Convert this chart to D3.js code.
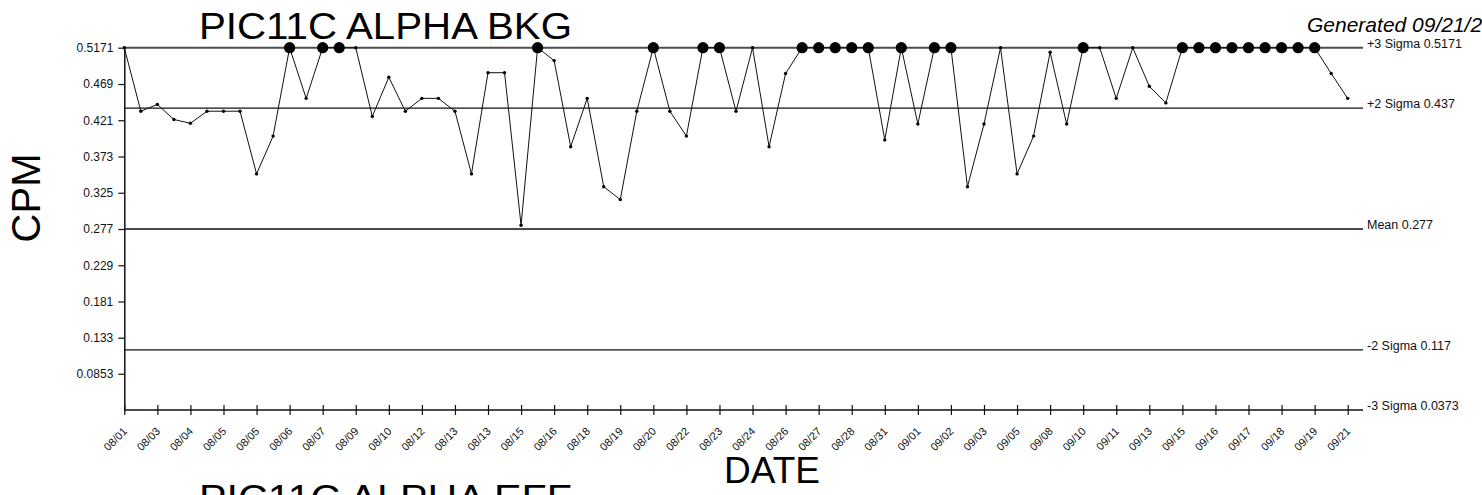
<!DOCTYPE html>
<html>
<head>
<meta charset="utf-8">
<script src="https://cdn.jsdelivr.net/npm/d3@7/dist/d3.min.js"></script>
<style>
  html, body { margin: 0; padding: 0; background: #fff; overflow: hidden; }
  svg { display: block; font-family: "Liberation Sans", Arial, sans-serif; }
</style>
</head>
<body>
<svg id="chart" width="1482" height="495"></svg>
<script>
// ---- data ----
const tickLabels = ["08/01","08/03","08/04","08/05","08/05","08/06","08/07","08/09","08/10","08/12",
  "08/13","08/13","08/15","08/16","08/18","08/19","08/20","08/22","08/23","08/24",
  "08/26","08/27","08/28","08/31","09/01","09/02","09/03","09/05","09/08","09/10",
  "09/11","09/13","09/15","09/16","09/17","09/18","09/19","09/21"];

const cpm = [0.5171,0.433,0.442,0.422,0.417,0.433,0.433,0.433,0.350,0.400,
  0.5171,0.450,0.5171,0.5171,0.5171,0.426,0.478,0.433,0.450,0.450,
  0.433,0.350,0.484,0.484,0.282,0.5171,0.500,0.386,0.450,0.333,
  0.316,0.433,0.5171,0.433,0.400,0.5171,0.5171,0.433,0.5171,0.386,
  0.483,0.5171,0.5171,0.5171,0.5171,0.5171,0.395,0.5171,0.416,0.5171,
  0.5171,0.333,0.416,0.5171,0.350,0.400,0.511,0.416,0.5171,0.5171,
  0.450,0.5171,0.466,0.444,0.5171,0.5171,0.5171,0.5171,0.5171,0.5171,
  0.5171,0.5171,0.5171,0.483,0.450];

// 1 = point outside control limit (drawn as large marker)
const outOfLimit = [0,0,0,0,0,0,0,0,0,0,
  1,0,1,1,0,0,0,0,0,0,
  0,0,0,0,0,1,0,0,0,0,
  0,0,1,0,0,1,1,0,0,0,
  0,1,1,1,1,1,0,1,0,1,
  1,0,0,0,0,0,0,0,1,0,
  0,0,0,0,1,1,1,1,1,1,
  1,1,1,0,0];

const yTicks = [0.0853,0.133,0.181,0.229,0.277,0.325,0.373,0.421,0.469,0.5171];
const limitValues = [0.5171,0.437,0.277,0.117,0.0373];
const limitLabels = ["+3 Sigma 0.5171","+2 Sigma 0.437","Mean 0.277","-2 Sigma 0.117","-3 Sigma 0.0373"];

// ---- drawing ----
const svg = d3.select("#chart");
const font = "'Liberation Sans', Arial, sans-serif";

const x = d3.scalePoint().domain(d3.range(cpm.length)).range([124.3, 1347.7]);
const y = d3.scaleLinear().domain([0.0373, 0.5171]).range([410, 47.7]);
const lineEnd = 1363;

// control limit lines
limitValues.forEach((v, i) => {
  const top = i === 0;
  svg.append("line")
    .attr("x1", x(0)).attr("x2", lineEnd)
    .attr("y1", y(v)).attr("y2", y(v))
    .attr("stroke", top ? "#4d4d4d" : "#111")
    .attr("stroke-width", top ? 2 : 1.3);
  svg.append("text")
    .attr("x", lineEnd + 4).attr("y", y(v) - 0.2)
    .attr("font-size", 12.5)
    .attr("fill", "#111")
    .text(limitLabels[i]);
});

// y axis
const yAxis = d3.axisLeft(y).tickValues(yTicks).tickSize(6).tickSizeOuter(0).tickPadding(5)
  .tickFormat(d => String(d));
const gy = svg.append("g").attr("transform", `translate(${x(0)},0)`).call(yAxis);
gy.select(".domain").attr("stroke", "#111").attr("stroke-width", 1.5);
gy.selectAll(".tick line").attr("stroke", "#111").attr("stroke-width", 1.2);
gy.selectAll(".tick text").attr("font-size", 12).attr("font-family", font).attr("fill", "#111");

// x axis
const evenIdx = d3.range(0, cpm.length, 2);
const xAxis = d3.axisBottom(x).tickValues(evenIdx).tickSize(5).tickSizeOuter(0)
  .tickFormat(d => tickLabels[d / 2]);
const gx = svg.append("g").attr("transform", `translate(0,${y(0.0373)})`).call(xAxis);
gx.select(".domain").remove();
gx.selectAll(".tick line").attr("y1", -5).attr("y2", 5).attr("stroke", "#111").attr("stroke-width", 1.2);
gx.selectAll(".tick text")
  .attr("font-size", 11).attr("font-family", font).attr("fill", "#111")
  .attr("text-anchor", "end")
  .attr("dy", null)
  .attr("y", 0)
  .attr("transform", "translate(3,22) rotate(-45)");

// data line
svg.append("path")
  .datum(cpm)
  .attr("fill", "none")
  .attr("stroke", "#111")
  .attr("stroke-width", 1)
  .attr("d", d3.line().x((d, i) => x(i)).y(d => y(d)));

// markers
svg.append("g").selectAll("circle")
  .data(cpm)
  .join("circle")
  .attr("cx", (d, i) => x(i))
  .attr("cy", d => y(d))
  .attr("r", (d, i) => outOfLimit[i] ? 5.6 : 1.7)
  .attr("fill", "#000");

// titles
svg.append("text").attr("x", 199).attr("y", 39)
  .attr("font-size", 37).attr("textLength", 373).attr("lengthAdjust", "spacingAndGlyphs")
  .attr("fill", "#000").text("PIC11C ALPHA BKG");

svg.append("text").attr("x", 199).attr("y", 511)
  .attr("font-size", 37).attr("textLength", 373).attr("lengthAdjust", "spacingAndGlyphs")
  .attr("fill", "#000").text("PIC11C ALPHA EFF");

svg.append("text").attr("x", 772).attr("y", 483)
  .attr("font-size", 37).attr("text-anchor", "middle")
  .attr("fill", "#000").text("DATE");

svg.append("text")
  .attr("transform", "translate(40,198) rotate(-90)")
  .attr("font-size", 40).attr("text-anchor", "middle")
  .attr("fill", "#000").text("CPM");

svg.append("text").attr("x", 1307).attr("y", 32)
  .attr("font-size", 21).attr("font-style", "italic")
  .attr("fill", "#000").text("Generated 09/21/2");
</script>
</body>
</html>
